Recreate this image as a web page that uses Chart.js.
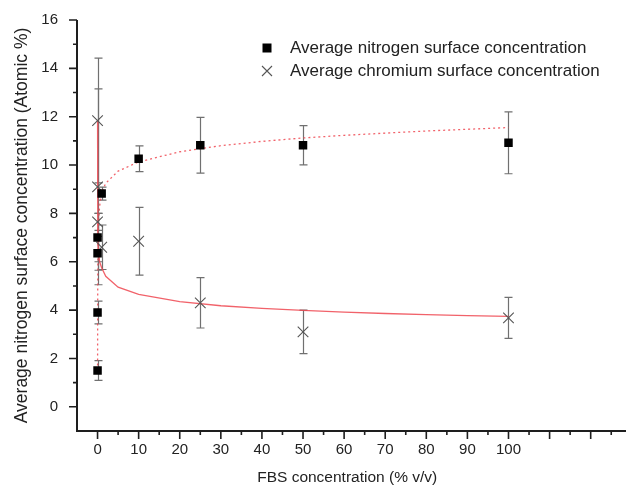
<!DOCTYPE html>
<html>
<head>
<meta charset="utf-8">
<script src="https://cdn.jsdelivr.net/npm/chart.js@4.4.0/dist/chart.umd.min.js"></script>
<style>
  html, body { margin: 0; padding: 0; background: #fff; }
  #wrap { width: 626px; height: 490px; }
</style>
</head>
<body>
<div id="wrap"><canvas id="grafico" width="626" height="490"></canvas></div>
<script>
// Nitrogen points (black squares)
const nitrogenX = [0, 0, 0, 0, 1, 10, 25, 50, 100];
const nitrogenY = [1.5, 3.9, 6.35, 7.0, 8.82, 10.26, 10.82, 10.82, 10.92];
const nitrogenErr = [0.41, 0.47, 0.7, 1.0, 0.27, 0.53, 1.15, 0.81, 1.28];

// Chromium points (grey crosses)
const chromiumX = [0, 0, 0, 1, 10, 25, 50, 100];
const chromiumY = [11.84, 9.1, 7.65, 6.6, 6.85, 4.3, 3.1, 3.68];
const chromiumErr = [2.58, 4.05, 0.35, 0.92, 1.4, 1.04, 0.9, 0.85];

// fitted curves
const fitNX = [0.01, 0.02, 0.05, 0.1, 0.2, 0.5, 1, 2, 5, 10, 20, 30, 40, 50, 60, 70, 80, 90, 100];
const fitNY = [1.5, 3.0, 5.2, 6.6, 7.5, 8.3, 8.87, 9.25, 9.75, 10.13, 10.55, 10.8, 10.98, 11.12, 11.23, 11.32, 11.41, 11.48, 11.55];
const fitCrX = [0.005, 0.02, 0.05, 0.1, 0.2, 0.5, 1, 2, 5, 10, 20, 30, 40, 50, 60, 70, 80, 90, 100];
const fitCrY = [11.84, 9.6, 8.0, 7.0, 6.45, 6.0, 5.75, 5.4, 4.95, 4.65, 4.35, 4.18, 4.07, 3.99, 3.92, 3.86, 3.81, 3.77, 3.74];

const xTicks = [0, 10, 20, 30, 40, 50, 60, 70, 80, 90, 100];
const yTicks = [0, 2, 4, 6, 8, 10, 12, 14, 16];

const legendLabels = ['Average nitrogen surface concentration', 'Average chromium surface concentration'];

const fonte = '"Liberation Sans", Arial, sans-serif';
const corEixo = '#1e1e1e';
const corErro = '#707070';
const corFit = 'rgba(238, 70, 80, 0.85)';

function pares(xs, ys) {
  return xs.map((v, i) => ({ x: v, y: ys[i] }));
}

// error bars, axis ticks and legend drawn on top of chart.js scales
const desenhoExtra = {
  id: 'desenhoExtra',
  beforeDatasetsDraw(chart) {
    const ctx = chart.ctx;
    const sx = chart.scales.x, sy = chart.scales.y;
    ctx.save();
    ctx.strokeStyle = corErro;
    ctx.lineWidth = 1.2;
    function barra(xv, yv, e) {
      const px = Math.round(sx.getPixelForValue(xv)) + 0.5;
      const top = sy.getPixelForValue(yv + e);
      const bot = sy.getPixelForValue(yv - e);
      ctx.beginPath();
      ctx.moveTo(px, top); ctx.lineTo(px, bot);
      ctx.moveTo(px - 4, top); ctx.lineTo(px + 4, top);
      ctx.moveTo(px - 4, bot); ctx.lineTo(px + 4, bot);
      ctx.stroke();
    }
    nitrogenX.forEach((v, i) => barra(v, nitrogenY[i], nitrogenErr[i]));
    chromiumX.forEach((v, i) => barra(v, chromiumY[i], chromiumErr[i]));
    ctx.restore();
  },
  afterDraw(chart) {
    const ctx = chart.ctx;
    const area = chart.chartArea;
    const sx = chart.scales.x, sy = chart.scales.y;
    ctx.save();
    ctx.strokeStyle = corEixo;
    ctx.lineWidth = 2;
    // axis lines
    ctx.beginPath();
    ctx.moveTo(area.left, area.top);
    ctx.lineTo(area.left, area.bottom);
    ctx.lineTo(626, area.bottom);
    ctx.stroke();
    // x ticks (major 10, minor 5), they go on past the last label
    ctx.lineWidth = 1.6;
    ctx.beginPath();
    for (let v = -5; v <= 130; v += 5) {
      const px = sx.getPixelForValue(v);
      if (px <= area.left + 1 || px > 626) continue;
      const len = (v % 10 === 0) ? 8 : 4;
      ctx.moveTo(px, area.bottom);
      ctx.lineTo(px, area.bottom + len);
    }
    // y ticks (major 2, minor 1)
    for (let v = 0; v <= 16; v += 1) {
      const py = sy.getPixelForValue(v);
      const len = (v % 2 === 0) ? 8 : 4;
      ctx.moveTo(area.left, py);
      ctx.lineTo(area.left - len, py);
    }
    ctx.stroke();

    // legend inside the plot
    const lx = 267, ly = [48, 71];
    ctx.fillStyle = '#000';
    ctx.fillRect(lx - 4.5, ly[0] - 4.5, 9, 9);
    ctx.strokeStyle = '#555';
    ctx.lineWidth = 1.1;
    ctx.beginPath();
    ctx.moveTo(lx - 5, ly[1] - 5); ctx.lineTo(lx + 5, ly[1] + 5);
    ctx.moveTo(lx + 5, ly[1] - 5); ctx.lineTo(lx - 5, ly[1] + 5);
    ctx.stroke();
    ctx.fillStyle = '#222';
    ctx.font = '17px ' + fonte;
    ctx.textBaseline = 'middle';
    ctx.textAlign = 'left';
    ctx.fillText(legendLabels[0], 290, ly[0]);
    ctx.fillText(legendLabels[1], 290, ly[1]);
    ctx.restore();
  }
};

const ctx = document.getElementById('grafico').getContext('2d');
const chart = new Chart(ctx, {
  type: 'scatter',
  data: {
    datasets: [
      {
        label: 'fit N',
        data: pares(fitNX, fitNY),
        showLine: true,
        borderColor: corFit,
        borderWidth: 1.3,
        borderDash: [2, 3],
        pointRadius: 0,
        tension: 0,
        order: 3
      },
      {
        label: 'fit Cr',
        data: pares(fitCrX, fitCrY),
        showLine: true,
        borderColor: corFit,
        borderWidth: 1.3,
        pointRadius: 0,
        tension: 0,
        order: 3
      },
      {
        label: legendLabels[0],
        data: pares(nitrogenX, nitrogenY),
        pointStyle: 'rect',
        pointRadius: 6,
        backgroundColor: '#000',
        borderColor: '#000',
        borderWidth: 0,
        order: 1
      },
      {
        label: legendLabels[1],
        data: pares(chromiumX, chromiumY),
        pointStyle: 'crossRot',
        pointRadius: 7.5,
        borderColor: '#555',
        borderWidth: 1.1,
        order: 2
      }
    ]
  },
  options: {
    responsive: false,
    animation: false,
    devicePixelRatio: 1,
    layout: { padding: { top: 18, right: 0, left: 0, bottom: 0 } },
    plugins: {
      legend: { display: false },
      tooltip: { enabled: false }
    },
    scales: {
      x: {
        type: 'linear',
        min: -5,
        max: 126.5,
        afterBuildTicks(scale) { scale.ticks = xTicks.map(v => ({ value: v })); },
        afterFit(scale) { scale.height = 59; },
        grid: { display: false },
        border: { display: false },
        ticks: {
          padding: 2,
          color: '#222',
          font: { family: fonte, size: 15 },
          maxRotation: 0,
          autoSkip: false
        },
        title: {
          display: true,
          text: 'FBS concentration (% v/v)',
          color: '#222',
          font: { family: fonte, size: 15.5 },
          padding: { top: 0, bottom: 3 }
        }
      },
      y: {
        type: 'linear',
        min: -1,
        max: 16,
        afterBuildTicks(scale) { scale.ticks = yTicks.map(v => ({ value: v })); },
        afterFit(scale) { scale.width = 77; },
        grid: { display: false },
        border: { display: false },
        ticks: {
          padding: 11,
          color: '#222',
          font: { family: fonte, size: 15 }
        },
        title: {
          display: true,
          text: 'Average nitrogen surface concentration (Atomic %)',
          color: '#222',
          font: { family: fonte, size: 17.5 },
          padding: { top: 12, bottom: 0 }
        }
      }
    }
  },
  plugins: [desenhoExtra]
});
</script>
</body>
</html>
